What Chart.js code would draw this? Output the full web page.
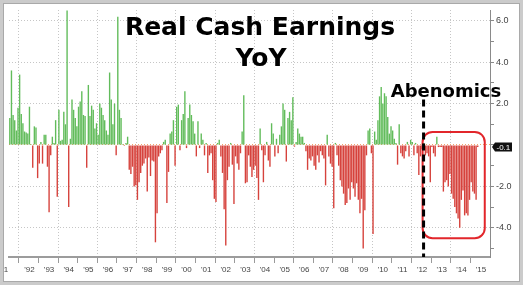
<!DOCTYPE html>
<html>
<head>
<meta charset="utf-8">
<script src="https://cdn.jsdelivr.net/npm/chart.js@4.4.1/dist/chart.umd.min.js"></script>
<style>
  html, body { margin: 0; padding: 0; background: #fff; }
  #wrap { position: relative; width: 523px; height: 285px; }
  #frame { position: absolute; left: 0; top: 0; width: 523px; height: 285px; box-sizing: border-box;
           border: 3px solid #cbcbcb; box-shadow: inset 0 0 0 1px #a9a9a9; pointer-events: none; }
</style>
</head>
<body>
<div id="wrap">
  <canvas id="earningsChart" width="523" height="285"></canvas>
  <div id="frame"></div>
</div>
<script>
// Real cash earnings, % YoY, monthly. 1991 starts in July, 2015 ends in May.
const yoy1991 = [1.3, 3.6, 1.45, 1.2, 0.7, 1.8];
const yoy1992 = [3.4, 1.5, 1.05, 0.65, 0.6, 0.55, 1.85, 0.05, -1.1, 0.9, 0.85, -1.6];
const yoy1993 = [-0.9, 0.15, -0.9, 0.5, 0.5, -1.05, -3.25, -0.5, 0.4, 0.1, 1.2, -2.5];
const yoy1994 = [1.7, 0.2, 0.25, 1.6, 1.0, 6.5, -3.0, 0.3, 2.2, 1.7, 1.3, 0.9];
const yoy1995 = [1.85, 2.1, 2.6, 1.45, 1.4, -1.1, 2.9, 1.4, 1.9, 1.7, 0.8, 1.05];
const yoy1996 = [0.5, 2.0, 1.8, 1.45, 1.2, 0.7, 0.5, 3.5, 2.2, 1.0, 2.0, -0.5];
const yoy1997 = [6.2, 1.7, 1.3, 0.05, -0.05, 0.1, 0.4, -1.2, -1.4, -1.05, -2.0, -1.95];
const yoy1998 = [-2.65, -1.8, -1.35, -1.0, -0.9, -0.65, -2.25, -0.6, -1.5, -0.75, -0.8, -4.7];
const yoy1999 = [-3.3, -0.55, -0.4, -0.25, 0.15, 0.25, -2.8, -1.3, 0.55, 0.65, 1.2, -1.0];
const yoy2000 = [1.85, 1.95, -0.25, 1.2, 1.5, 2.6, -0.15, 1.3, 1.95, 1.45, 1.15, 0.55];
const yoy2001 = [-0.55, 1.15, -0.15, 0.55, 0.25, -0.5, 0.1, -1.35, -0.5, -0.4, -1.7, -2.6];
const yoy2002 = [-2.75, 0.1, 0.25, -0.55, -1.35, -3.1, -4.85, -1.7, -1.05, 0.1, -0.95, -2.85];
const yoy2003 = [-0.55, -0.9, -1.2, -0.4, 0.65, 2.4, -1.85, -1.8, -0.5, -1.05, -1.55, -1.2];
const yoy2004 = [-1.0, -1.6, -2.65, 0.8, -0.25, -1.8, -0.5, 0.15, -0.75, -1.05, 1.05, 0.55];
const yoy2005 = [-0.55, 0.3, -0.4, 0.5, 0.9, 2.0, 1.7, -0.8, 1.3, 1.6, 1.2, 2.3];
const yoy2006 = [-0.08, 0.15, 0.8, 0.55, 0.4, 0.4, 0.1, -0.3, -1.2, -0.65, -0.75, -0.55];
const yoy2007 = [-1.0, -1.2, -0.5, -0.85, -0.3, -0.5, -0.65, -1.95, 0.5, -0.55, -0.9, -1.05];
const yoy2008 = [-3.05, 0.1, -0.5, -1.0, -1.7, -2.0, -2.35, -2.9, -2.8, -2.1, -2.65, -1.8];
const yoy2009 = [-2.1, -2.5, -1.85, -2.65, -3.3, -2.6, -5.0, -3.15, -0.5, 0.7, 0.8, -0.4];
const yoy2010 = [-4.3, 0.65, 0.25, 1.2, 2.35, 2.8, 2.0, 2.5, 2.35, 1.35, 0.55, 0.9];
const yoy2011 = [0.7, 0.3, 0.1, -0.95, 1.0, -0.4, -0.55, -0.65, -0.3, 0.15, -0.55, 0.25];
const yoy2012 = [0.15, -0.5, 0.1, -0.4, -1.45, -0.55, -0.2, 0.1, -0.5, -0.4, -0.55, -1.8];
const yoy2013 = [-0.1, -0.4, -0.55, 0.4, -0.1, -0.1, -0.1, -2.25, -1.8, -1.7, -2.0, -1.4];
const yoy2014 = [-2.35, -2.6, -3.0, -3.3, -3.55, -4.0, -2.65, -2.2, -3.4, -3.3, -3.4, -2.65];
const yoy2015 = [-1.8, -2.25, -2.35, -2.65, -0.1];

const yearLabels = ["'91", "'92", "'93", "'94", "'95", "'96", "'97", "'98", "'99", "'00", "'01", "'02", "'03",
                    "'04", "'05", "'06", "'07", "'08", "'09", "'10", "'11", "'12", "'13", "'14", "'15"];
const yTickLabels = [-4, -2, 2, 4, 6];

const firstYear = 1991, firstMonth = 7, lastYear = 2015;

const yoyValues = [yoy1991, yoy1992, yoy1993, yoy1994, yoy1995, yoy1996, yoy1997, yoy1998, yoy1999,
  yoy2000, yoy2001, yoy2002, yoy2003, yoy2004, yoy2005, yoy2006, yoy2007, yoy2008, yoy2009,
  yoy2010, yoy2011, yoy2012, yoy2013, yoy2014, yoy2015].flat();

// month categories, axis runs to the end of 2015
const months = [];
for (let yr = firstYear; yr <= lastYear; yr++) {
  for (let m = (yr === firstYear ? firstMonth : 1); m <= 12; m++) {
    months.push(yr + "-" + String(m).padStart(2, "0"));
  }
}

const green = "#62bc5b";
const red = "#d6423c";
const barColors = yoyValues.map(v => v >= 0 ? green : red);
const lastValue = yoyValues[yoyValues.length - 1];
const clear = "rgba(0,0,0,0)";

function monthIdx(label) { return months.indexOf(label); }

const overlay = {
  id: "overlay",
  afterDatasetsDraw(chart) {
    const { ctx, chartArea, scales: { x, y } } = chart;
    ctx.save();

    // highlight box around the Abenomics period
    const bx0 = x.getPixelForValue(monthIdx("2012-08") - 0.7);
    const bx1 = x.getPixelForValue(monthIdx("2015-09") + 0.3);
    const by0 = y.getPixelForValue(0.63);
    const by1 = y.getPixelForValue(-4.5);
    ctx.strokeStyle = "#e2262b";
    ctx.lineWidth = 2;
    ctx.beginPath();
    ctx.roundRect(bx0, by0, bx1 - bx0, by1 - by0, 10);
    ctx.stroke();

    // dashed marker
    const ax = x.getPixelForValue(monthIdx("2012-08") - 0.1);
    ctx.strokeStyle = "#000";
    ctx.lineWidth = 3;
    ctx.setLineDash([7, 4]);
    ctx.beginPath();
    ctx.moveTo(ax, y.getPixelForValue(2.2));
    ctx.lineTo(ax, chartArea.bottom);
    ctx.stroke();
    ctx.setLineDash([]);

    // titles
    ctx.fillStyle = "#000";
    ctx.textAlign = "center";
    ctx.textBaseline = "alphabetic";
    ctx.font = "bold 25px 'DejaVu Sans'";
    ctx.fillText("Real Cash Earnings", 260, 35);
    ctx.fillText("YoY", 261, 66);
    ctx.font = "bold 18px 'DejaVu Sans'";
    ctx.fillText("Abenomics", 446, 97);

    // last value tag on the right axis
    const ly = y.getPixelForValue(lastValue);
    const lx = chartArea.right + 2;
    ctx.fillStyle = "#111";
    ctx.beginPath();
    ctx.moveTo(lx, ly);
    ctx.lineTo(lx + 3, ly - 4.5);
    ctx.lineTo(lx + 20, ly - 4.5);
    ctx.lineTo(lx + 20, ly + 4.5);
    ctx.lineTo(lx + 3, ly + 4.5);
    ctx.closePath();
    ctx.fill();
    ctx.fillStyle = "#fff";
    ctx.font = "8px 'Liberation Sans'";
    ctx.textAlign = "left";
    ctx.textBaseline = "middle";
    ctx.fillText(lastValue.toFixed(1), lx + 4.5, ly + 0.5);

    // first year label, cut by the frame
    ctx.fillStyle = "#444";
    ctx.textAlign = "center";
    ctx.textBaseline = "top";
    ctx.fillText(yearLabels[0], 3, chartArea.bottom + 9);
    ctx.restore();
  }
};

new Chart(document.getElementById("earningsChart"), {
  type: "bar",
  data: {
    labels: months,
    datasets: [{
      data: yoyValues,
      backgroundColor: barColors,
      borderWidth: 0,
      barPercentage: 0.85,
      categoryPercentage: 1.0
    }]
  },
  options: {
    responsive: false,
    animation: false,
    layout: { padding: { left: 9, top: 10, right: 0, bottom: 0 } },
    plugins: { legend: { display: false }, tooltip: { enabled: false } },
    scales: {
      x: {
        type: "category",
        offset: true,
        afterFit(scale) { scale.height = 28; },
        grid: {
          offset: true,
          drawOnChartArea: true,
          tickLength: 6,
          color(ctx) {
            const lab = months[ctx.index];
            if (!lab) return clear;
            const yr = +lab.slice(0, 4);
            return lab.endsWith("-01") && yr % 2 === 0 ? "#c6c6c6" : clear;
          },
          tickColor(ctx) {
            const lab = months[ctx.index];
            return lab && lab.endsWith("-01") ? "#9a9a9a" : clear;
          }
        },
        border: { display: true, color: "#9c9c9c", width: 2, dash: [1, 2] },
        ticks: {
          autoSkip: false,
          maxRotation: 0,
          minRotation: 0,
          padding: 2,
          color: "#444",
          font: { family: "Liberation Sans", size: 8 },
          callback(value) {
            const lab = months[value];
            if (!lab || !lab.endsWith("-07")) return "";
            const i = +lab.slice(0, 4) - firstYear;
            return i === 0 ? "" : yearLabels[i];
          }
        }
      },
      y: {
        position: "right",
        min: -5.41,
        max: 6.52,
        afterFit(scale) { scale.width = 33; },
        grid: {
          tickLength: 4,
          color(ctx) {
            const v = ctx.tick && ctx.tick.value;
            if (v === 0) return "#f2a46c";
            return yTickLabels.includes(v) ? "#c6c6c6" : clear;
          },
          tickColor: "#8a8a8a"
        },
        border: { display: true, color: "#8a8a8a", width: 1, dash: [1, 2] },
        ticks: {
          stepSize: 1,
          includeBounds: false,
          padding: 2,
          color: "#444",
          font: { family: "Liberation Sans", size: 9 },
          callback(value) { return yTickLabels.includes(value) ? value.toFixed(1) : ""; }
        }
      }
    }
  },
  plugins: [overlay]
});
</script>
</body>
</html>
